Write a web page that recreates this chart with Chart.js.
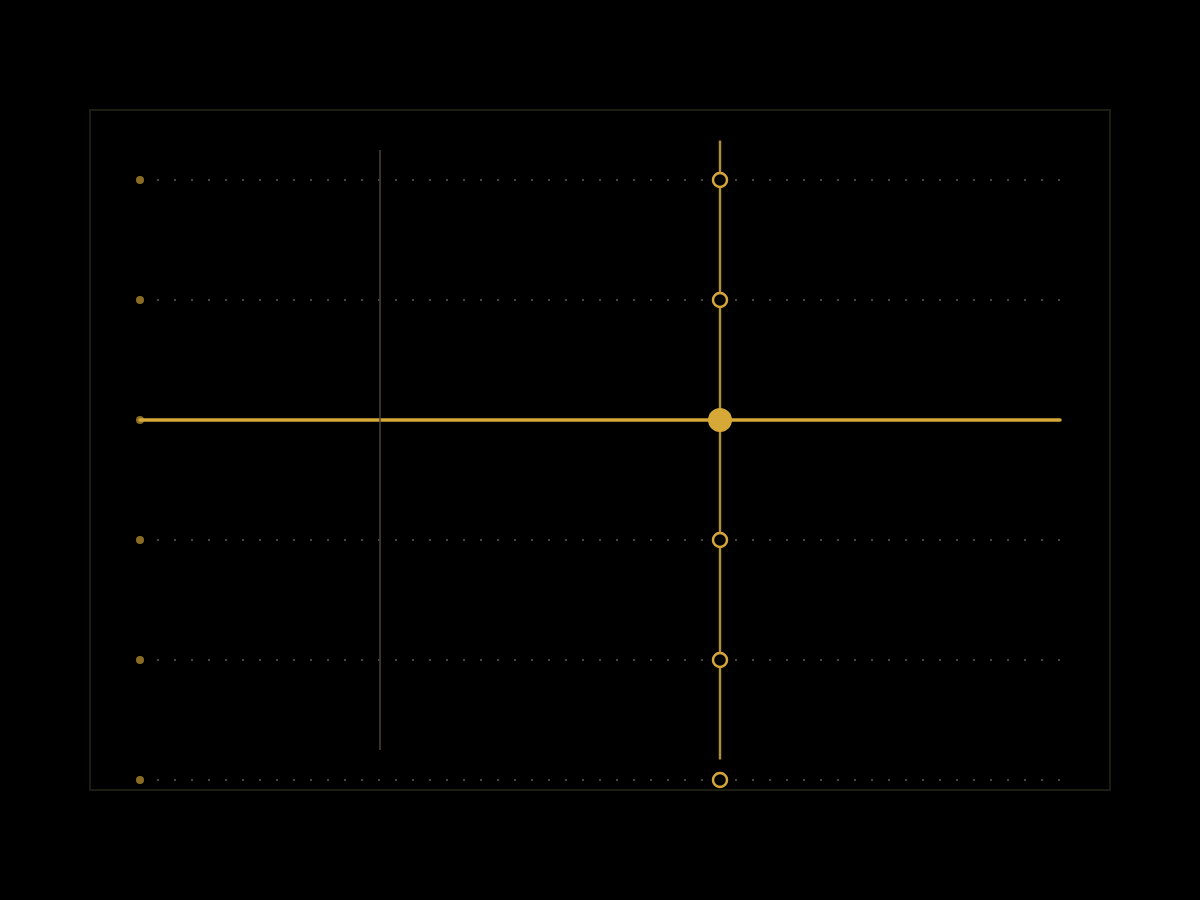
<!DOCTYPE html>
<html>
<head>
<meta charset="utf-8">
<title>Gold cross chart</title>
<script src="https://cdn.jsdelivr.net/npm/chart.js@4"></script>
<style>
  html, body { margin: 0; padding: 0; background: #000; }
  #wrap { width: 1200px; height: 900px; }
</style>
</head>
<body>
<div id="wrap"><canvas id="chart" width="1200" height="900"></canvas></div>
<script>
(function () {
  'use strict';

  // row levels, top to bottom
  const rows = [5, 4, 3, 2, 1, 0];
  const activeRow = 3;
  // x positions: row start, row end, faint marker, gold marker
  const rowStart = 0;
  const rowEnd = 920;
  const faintX = 240;
  const goldX = 580;
  // vertical extents (in row units)
  const faintSpan = [5.25, 0.25];
  const goldSpan = [5.33, 0.17];

  const GOLD = '#d6a838';
  const GOLD_DIM = '#8a6c26';
  const GOLD_LINE = '#ad8a3a';

  function seg(x1, y1, x2, y2) {
    return [{ x: x1, y: y1 }, { x: x2, y: y2 }];
  }

  const otherRows = rows.filter(r => r !== activeRow);

  const dotted = otherRows.map(r => ({
    data: seg(rowStart, r, rowEnd, r),
    showLine: true,
    borderColor: '#444',
    borderWidth: 2,
    borderDash: [2, 15],
    pointRadius: 0,
    order: 9
  }));

  const datasets = dotted.concat([
    {
      // left end dots
      data: rows.map(r => ({ x: rowStart, y: r })),
      pointRadius: 4,
      pointBackgroundColor: GOLD_DIM,
      pointBorderWidth: 0,
      order: 8
    },
    {
      data: seg(rowStart, activeRow, rowEnd, activeRow),
      showLine: true,
      borderColor: GOLD,
      borderWidth: 3.5,
      borderCapStyle: 'round',
      pointRadius: 0,
      order: 7
    },
    {
      data: seg(faintX, faintSpan[0], faintX, faintSpan[1]),
      showLine: true,
      borderColor: '#4d4230',
      borderWidth: 1.5,
      pointRadius: 0,
      order: 6
    },
    {
      data: seg(goldX, goldSpan[0], goldX, goldSpan[1]),
      showLine: true,
      borderColor: GOLD_LINE,
      borderWidth: 2.5,
      pointRadius: 0,
      order: 5
    },
    {
      // open rings on the gold marker
      data: otherRows.map(r => ({ x: goldX, y: r })),
      pointRadius: 7,
      pointBackgroundColor: '#000',
      pointBorderColor: GOLD,
      pointBorderWidth: 2.5,
      order: 2
    },
    {
      data: [{ x: goldX, y: activeRow }],
      pointRadius: 12,
      pointBackgroundColor: GOLD,
      pointBorderWidth: 0,
      order: 1
    }
  ]);

  const frame = {
    id: 'frame',
    beforeDraw(chart) {
      const { ctx, chartArea: a } = chart;
      ctx.save();
      ctx.fillStyle = '#000';
      ctx.fillRect(0, 0, chart.width, chart.height);
      ctx.strokeStyle = '#1d1d13';
      ctx.lineWidth = 2;
      ctx.strokeRect(a.left, a.top, a.right - a.left, a.bottom - a.top);
      ctx.restore();
    }
  };

  new Chart(document.getElementById('chart').getContext('2d'), {
    type: 'scatter',
    data: { datasets: datasets },
    options: {
      responsive: false,
      animation: false,
      events: [],
      layout: { padding: { left: 90, right: 90, top: 110, bottom: 110 } },
      plugins: { legend: { display: false }, tooltip: { enabled: false } },
      scales: {
        x: { type: 'linear', min: -50, max: 970, display: false },
        y: { type: 'linear', min: -1 / 12, max: 5 + 7 / 12, display: false }
      }
    },
    plugins: [frame]
  });
})();
</script>
</body>
</html>
